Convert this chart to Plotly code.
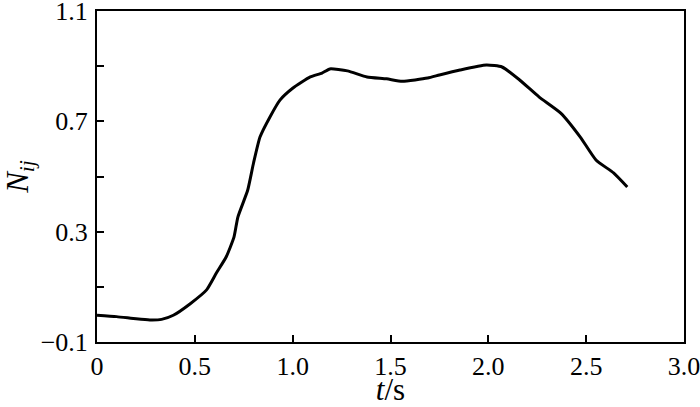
import plotly.graph_objects as go

t = [0.0, 0.10, 0.20, 0.27, 0.33, 0.39, 0.475, 0.56, 0.61, 0.66, 0.70, 0.72, 0.77, 0.80, 0.833, 0.884,
     0.935, 1.0, 1.09, 1.15, 1.19, 1.28, 1.38, 1.48, 1.56, 1.69, 1.75, 1.855, 1.99, 2.07, 2.16,
     2.26, 2.37, 2.47, 2.55, 2.64, 2.71]
n = [-0.003, -0.008, -0.016, -0.02, -0.018, -0.003, 0.038, 0.089, 0.15, 0.208, 0.28, 0.353, 0.45, 0.549,
     0.643, 0.716, 0.777, 0.82, 0.861, 0.875, 0.89, 0.883, 0.861, 0.854, 0.845, 0.857, 0.868, 0.886,
     0.904, 0.897, 0.85, 0.788, 0.73, 0.643, 0.56, 0.513, 0.462]

x_tickvals = [0, 0.5, 1.0, 1.5, 2.0, 2.5, 3.0]
x_ticktext = ["0", "0.5", "1.0", "1.5", "2.0", "2.5", "3.0"]
y_tickvals = [-0.1, 0.3, 0.7, 1.1]
y_ticktext = ["\u22120.1", "0.3", "0.7", "1.1"]
y_minorvals = [0.1, 0.5, 0.9]

fig = go.Figure(go.Scatter(x=t, y=n, mode="lines",
                           line=dict(color="black", width=3, shape="spline", smoothing=0.5)))

FAMILY = "'Liberation Serif', 'Times New Roman', serif"
font = dict(family=FAMILY, size=26, color="black")
fig.update_layout(
    width=700, height=407, margin=dict(l=97, r=16, t=11, b=65, autoexpand=False),
    paper_bgcolor="white", plot_bgcolor="white", showlegend=False, font=font,
    xaxis=dict(range=[0, 3.0], tickvals=x_tickvals, ticktext=x_ticktext, ticks="inside", ticklen=7,
               tickcolor="black", tickwidth=1.5, showline=True, linecolor="black", linewidth=2, mirror=True,
               showgrid=False, zeroline=False, automargin=False, ticklabelstandoff=0,
               ticklabeloverflow="allow",
               title=dict(text="<i>t</i>/s", standoff=5)),
    yaxis=dict(range=[-0.1, 1.1], tickvals=y_tickvals, ticktext=y_ticktext, ticks="inside", ticklen=7,
               tickcolor="black", tickwidth=1.5, showline=True, linecolor="black", linewidth=2, mirror=True,
               showgrid=False, zeroline=False, automargin=False, ticklabelstandoff=2,
               ticklabeloverflow="allow",
               minor=dict(tickvals=y_minorvals, ticks="inside", ticklen=7, tickcolor="black", tickwidth=1.5,
                          showgrid=False),
               title=dict(text="<i>N</i><sub><i>ij</i></sub>", standoff=17)),
)
fig.write_html("out.html", config={"displayModeBar": False},
               post_script="document.body.style.margin='0';document.body.style.overflow='hidden';")
